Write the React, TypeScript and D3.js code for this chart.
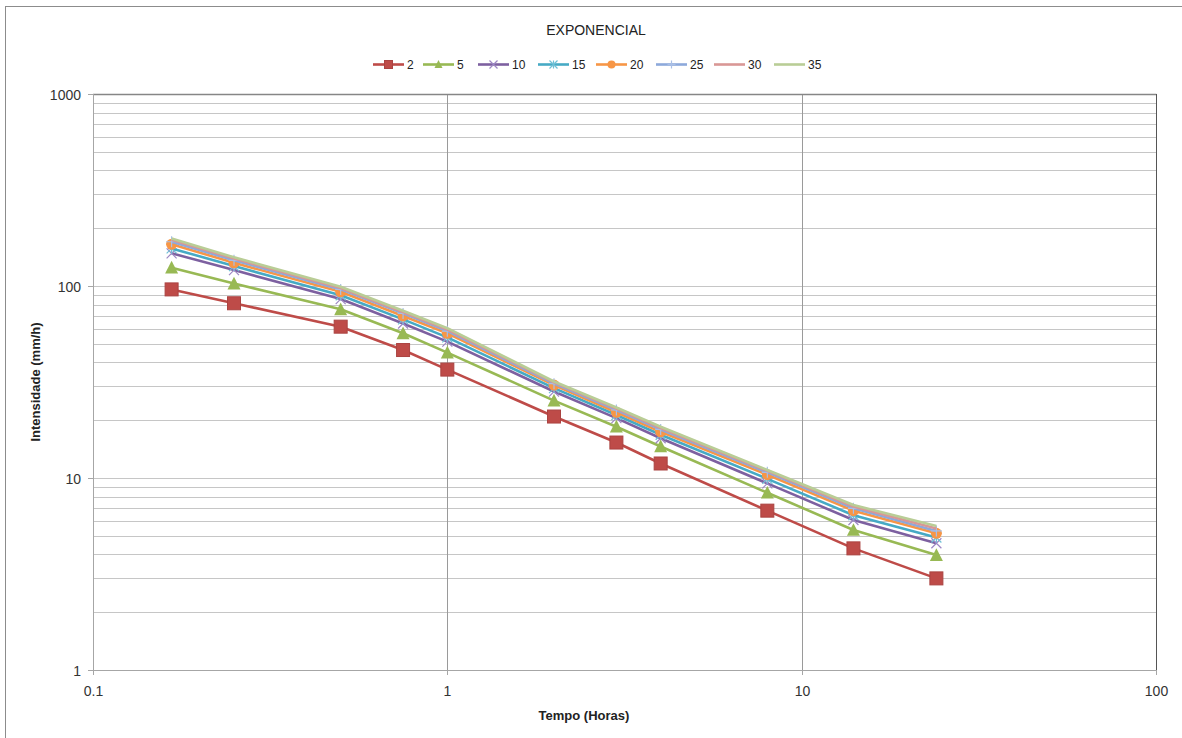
import React, { useEffect, useRef } from 'react';
import * as d3 from 'd3';

// Tempo (horas) das durações
const tempos = [1 / 6, 0.25, 0.5, 0.75, 1, 2, 3, 4, 8, 14, 24];

// Períodos de retorno (anos)
const periodos = ['2', '5', '10', '15', '20', '25', '30', '35'];

// Intensidade (mm/h) por período de retorno
const i2 = [96, 81.3, 61.4, 46.4, 36.7, 20.9, 15.3, 11.9, 6.76, 4.3, 3.0];
const i5 = [124.6, 103, 75.6, 56.7, 45, 25.3, 18.5, 14.6, 8.38, 5.36, 3.97];
const i10 = [148, 121, 85.5, 63.8, 51.3, 28.2, 20.5, 16.1, 9.37, 6.04, 4.57];
const i15 = [157, 127, 89.5, 67, 54, 29.4, 21.3, 16.8, 9.9, 6.4, 4.9];
const i20 = [165, 132, 93.3, 69.8, 56.7, 30.5, 22, 17.4, 10.4, 6.76, 5.15];
const i25 = [170, 136, 96, 72, 58.2, 31, 22.6, 17.9, 10.7, 6.95, 5.3];
const i30 = [174, 139, 97.5, 73.2, 59.3, 31.5, 23, 18.2, 10.9, 7.1, 5.45];
const i35 = [177, 141, 99, 74.3, 60.3, 31.8, 23.3, 18.5, 11.0, 7.23, 5.62];

const valores = [i2, i5, i10, i15, i20, i25, i30, i35];

const cores = ['#BE4B48', '#98B954', '#7D60A0', '#46AAC5', '#F79646', '#8DA9DB', '#D99795', '#B9CD96'];
const marcadores = ['square', 'triangle', 'x', 'star', 'circle', 'plus', 'none', 'none'];

const xTicks = [0.1, 1, 10, 100];
const yTicks = [1, 10, 100, 1000];

const App = () => {
  const svgRef = useRef<SVGSVGElement>(null);

  useEffect(() => {
    const svg = d3.select(svgRef.current);
    svg.selectAll('*').remove();

    const width = 1182;
    const height = 738;
    const plot = { left: 93, right: 1156, top: 94, bottom: 670 };
    const font = '"Liberation Sans", Arial, sans-serif';

    svg.attr('width', width).attr('height', height);

    svg.append('rect').attr('width', width).attr('height', height).attr('fill', '#fff');

    // moldura externa
    svg.append('rect')
      .attr('x', 5.5).attr('y', 6.5)
      .attr('width', width).attr('height', height)
      .attr('fill', 'none').attr('stroke', '#8c8c8c');

    const x = d3.scaleLog().domain([0.1, 100]).range([plot.left, plot.right]);
    const y = d3.scaleLog().domain([1, 1000]).range([plot.bottom, plot.top]);

    // grade horizontal (principal e secundária)
    const gridY: number[] = [];
    [1, 10, 100].forEach(d => {
      for (let k = 1; k <= 9; k++) gridY.push(d * k);
    });
    svg.append('g')
      .selectAll('line')
      .data(gridY.filter(v => v > 1))
      .enter()
      .append('line')
      .attr('x1', plot.left).attr('x2', plot.right)
      .attr('y1', d => Math.round(y(d)) + 0.5)
      .attr('y2', d => Math.round(y(d)) + 0.5)
      .attr('stroke', '#c6c6c6')
      .attr('stroke-width', 1);

    // grade vertical
    svg.append('g')
      .selectAll('line')
      .data([1, 10])
      .enter()
      .append('line')
      .attr('x1', d => Math.round(x(d)) + 0.5)
      .attr('x2', d => Math.round(x(d)) + 0.5)
      .attr('y1', plot.top).attr('y2', plot.bottom)
      .attr('stroke', '#9a9a9a');

    // bordas
    svg.append('line')
      .attr('x1', plot.left).attr('x2', plot.right + 0.5)
      .attr('y1', plot.top + 0.5).attr('y2', plot.top + 0.5)
      .attr('stroke', '#868686').attr('stroke-width', 1.5);
    svg.append('line')
      .attr('x1', plot.right + 0.5).attr('x2', plot.right + 0.5)
      .attr('y1', plot.top).attr('y2', plot.bottom)
      .attr('stroke', '#555');

    // eixos
    svg.append('line')
      .attr('x1', plot.left + 0.5).attr('x2', plot.left + 0.5)
      .attr('y1', plot.top).attr('y2', plot.bottom + 5)
      .attr('stroke', '#a6a6a6');
    svg.append('line')
      .attr('x1', plot.left - 5).attr('x2', plot.right)
      .attr('y1', plot.bottom + 0.5).attr('y2', plot.bottom + 0.5)
      .attr('stroke', '#a6a6a6');

    // marcas e rótulos do eixo Y
    const gy = svg.append('g');
    yTicks.forEach(t => {
      const yy = Math.round(y(t)) + 0.5;
      gy.append('line')
        .attr('x1', plot.left - 5).attr('x2', plot.left)
        .attr('y1', yy).attr('y2', yy)
        .attr('stroke', '#a6a6a6');
      gy.append('text')
        .attr('x', 81).attr('y', yy + 5)
        .attr('text-anchor', 'end')
        .attr('font-family', font).attr('font-size', 14)
        .attr('fill', '#333')
        .text(String(t));
    });

    // marcas e rótulos do eixo X
    const gx = svg.append('g');
    xTicks.forEach(t => {
      const xx = Math.round(x(t)) + 0.5;
      gx.append('line')
        .attr('x1', xx).attr('x2', xx)
        .attr('y1', plot.bottom).attr('y2', plot.bottom + 5)
        .attr('stroke', '#a6a6a6');
      gx.append('text')
        .attr('x', xx).attr('y', 696)
        .attr('text-anchor', 'middle')
        .attr('font-family', font).attr('font-size', 14)
        .attr('fill', '#333')
        .text(String(t));
    });

    // títulos dos eixos
    svg.append('text')
      .attr('x', 584).attr('y', 720)
      .attr('text-anchor', 'middle')
      .attr('font-family', font).attr('font-size', 13).attr('font-weight', 'bold')
      .attr('fill', '#222')
      .text('Tempo (Horas)');
    svg.append('text')
      .attr('transform', 'translate(40,382) rotate(-90)')
      .attr('text-anchor', 'middle')
      .attr('font-family', font).attr('font-size', 13).attr('font-weight', 'bold')
      .attr('fill', '#222')
      .text('Intensidade (mm/h)');

    // título
    svg.append('text')
      .attr('x', 596).attr('y', 35)
      .attr('text-anchor', 'middle')
      .attr('font-family', font).attr('font-size', 14)
      .attr('fill', '#222')
      .text('EXPONENCIAL');

    const drawMarker = (g: any, tipo: string, cx: number, cy: number, cor: string, s: number) => {
      if (tipo === 'square') {
        g.append('rect')
          .attr('x', cx - s / 2).attr('y', cy - s / 2)
          .attr('width', s).attr('height', s)
          .attr('fill', cor).attr('stroke', d3.color(cor)!.darker(0.3).toString()).attr('stroke-width', 1);
      } else if (tipo === 'triangle') {
        const h = s * 0.9;
        g.append('path')
          .attr('d', `M${cx},${cy - h / 2 - 1}L${cx + s / 2},${cy + h / 2}L${cx - s / 2},${cy + h / 2}Z`)
          .attr('fill', cor);
      } else if (tipo === 'circle') {
        g.append('circle')
          .attr('cx', cx).attr('cy', cy).attr('r', s / 2)
          .attr('fill', cor);
      } else if (tipo === 'x') {
        const r = s / 2;
        g.append('path')
          .attr('d', `M${cx - r},${cy - r}L${cx + r},${cy + r}M${cx - r},${cy + r}L${cx + r},${cy - r}`)
          .attr('stroke', '#9d87c4').attr('stroke-width', 1.2).attr('fill', 'none');
      } else if (tipo === 'star') {
        const r = s / 2;
        g.append('path')
          .attr('d', `M${cx - r},${cy - r}L${cx + r},${cy + r}M${cx - r},${cy + r}L${cx + r},${cy - r}M${cx},${cy - r}L${cx},${cy + r}`)
          .attr('stroke', '#6fc0d6').attr('stroke-width', 1.2).attr('fill', 'none');
      } else if (tipo === 'plus') {
        const r = s / 2;
        g.append('path')
          .attr('d', `M${cx - r},${cy}L${cx + r},${cy}M${cx},${cy - r}L${cx},${cy + r}`)
          .attr('stroke', '#a9bfe6').attr('stroke-width', 1.2).attr('fill', 'none');
      }
    };

    const markerSize: Record<string, number> = { square: 13, triangle: 13, x: 10, star: 10, circle: 11, plus: 11, none: 0 };

    const line = d3.line<number>()
      .x((_, i) => x(tempos[i]))
      .y(d => y(d));

    // séries
    valores.forEach((serie, si) => {
      const g = svg.append('g');
      g.append('path')
        .datum(serie)
        .attr('d', line)
        .attr('fill', 'none')
        .attr('stroke', cores[si])
        .attr('stroke-width', 2.6)
        .attr('stroke-linejoin', 'round');
      serie.forEach((v, i) => {
        drawMarker(g, marcadores[si], x(tempos[i]), y(v), cores[si], markerSize[marcadores[si]]);
      });
    });

    // legenda
    const legX = [373, 423, 478, 538, 596, 656, 714, 774];
    const legY = 64.5;
    const leg = svg.append('g');
    periodos.forEach((p, i) => {
      const x0 = legX[i];
      leg.append('line')
        .attr('x1', x0).attr('x2', x0 + 31)
        .attr('y1', legY).attr('y2', legY)
        .attr('stroke', cores[i]).attr('stroke-width', 2.6);
      drawMarker(leg, marcadores[i], x0 + 15.5, legY, cores[i], Math.min(markerSize[marcadores[i]], 8));
      leg.append('text')
        .attr('x', x0 + 34).attr('y', legY + 4.5)
        .attr('font-family', font).attr('font-size', 12)
        .attr('fill', '#222')
        .text(p);
    });
  }, []);

  return (
    <div style={{ position: 'absolute', left: 0, top: 0 }}>
      <svg ref={svgRef} style={{ display: 'block' }}></svg>
    </div>
  );
};

export default App;
